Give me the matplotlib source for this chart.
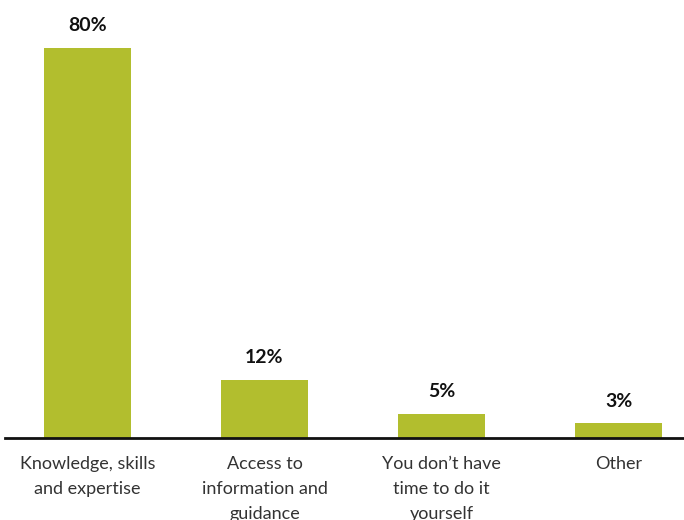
import matplotlib
matplotlib.use('Agg')
from matplotlib import pyplot as plt

categories = ['Knowledge, skills\nand expertise',
              'Access to\ninformation and\nguidance',
              'You don\u2019t have\ntime to do it\nyourself',
              'Other']
values = [80, 12, 5, 3]

plt.rcParams['font.family'] = ['Lato', 'DejaVu Sans']

fig = plt.figure(figsize=(6.84, 5.2), dpi=100)
ax = fig.add_axes([5 / 684, 82 / 520, 679 / 684, 438 / 520])

x = list(range(len(values)))
ax.bar(x, values, width=0.49, color='#b2be2e', zorder=2)

for xi, v in zip(x, values):
    ax.text(xi, v + 2.8, '{}%'.format(v), ha='center', va='bottom',
            fontsize=14, fontweight='bold', color='#111111')

ax.set_xlim(-0.466, 3.37)
ax.set_ylim(0, 89.85)

ax.set_xticks(x)
ax.set_xticklabels(categories, fontsize=13, color='#333333', linespacing=1.7,
                   va='top')
ax.tick_params(axis='x', length=0, pad=13)
ax.set_yticks([])

for side in ['top', 'right', 'left']:
    ax.spines[side].set_visible(False)
ax.spines['bottom'].set_linewidth(2)
ax.spines['bottom'].set_color('#111111')

fig.savefig('out.png', dpi=100)
